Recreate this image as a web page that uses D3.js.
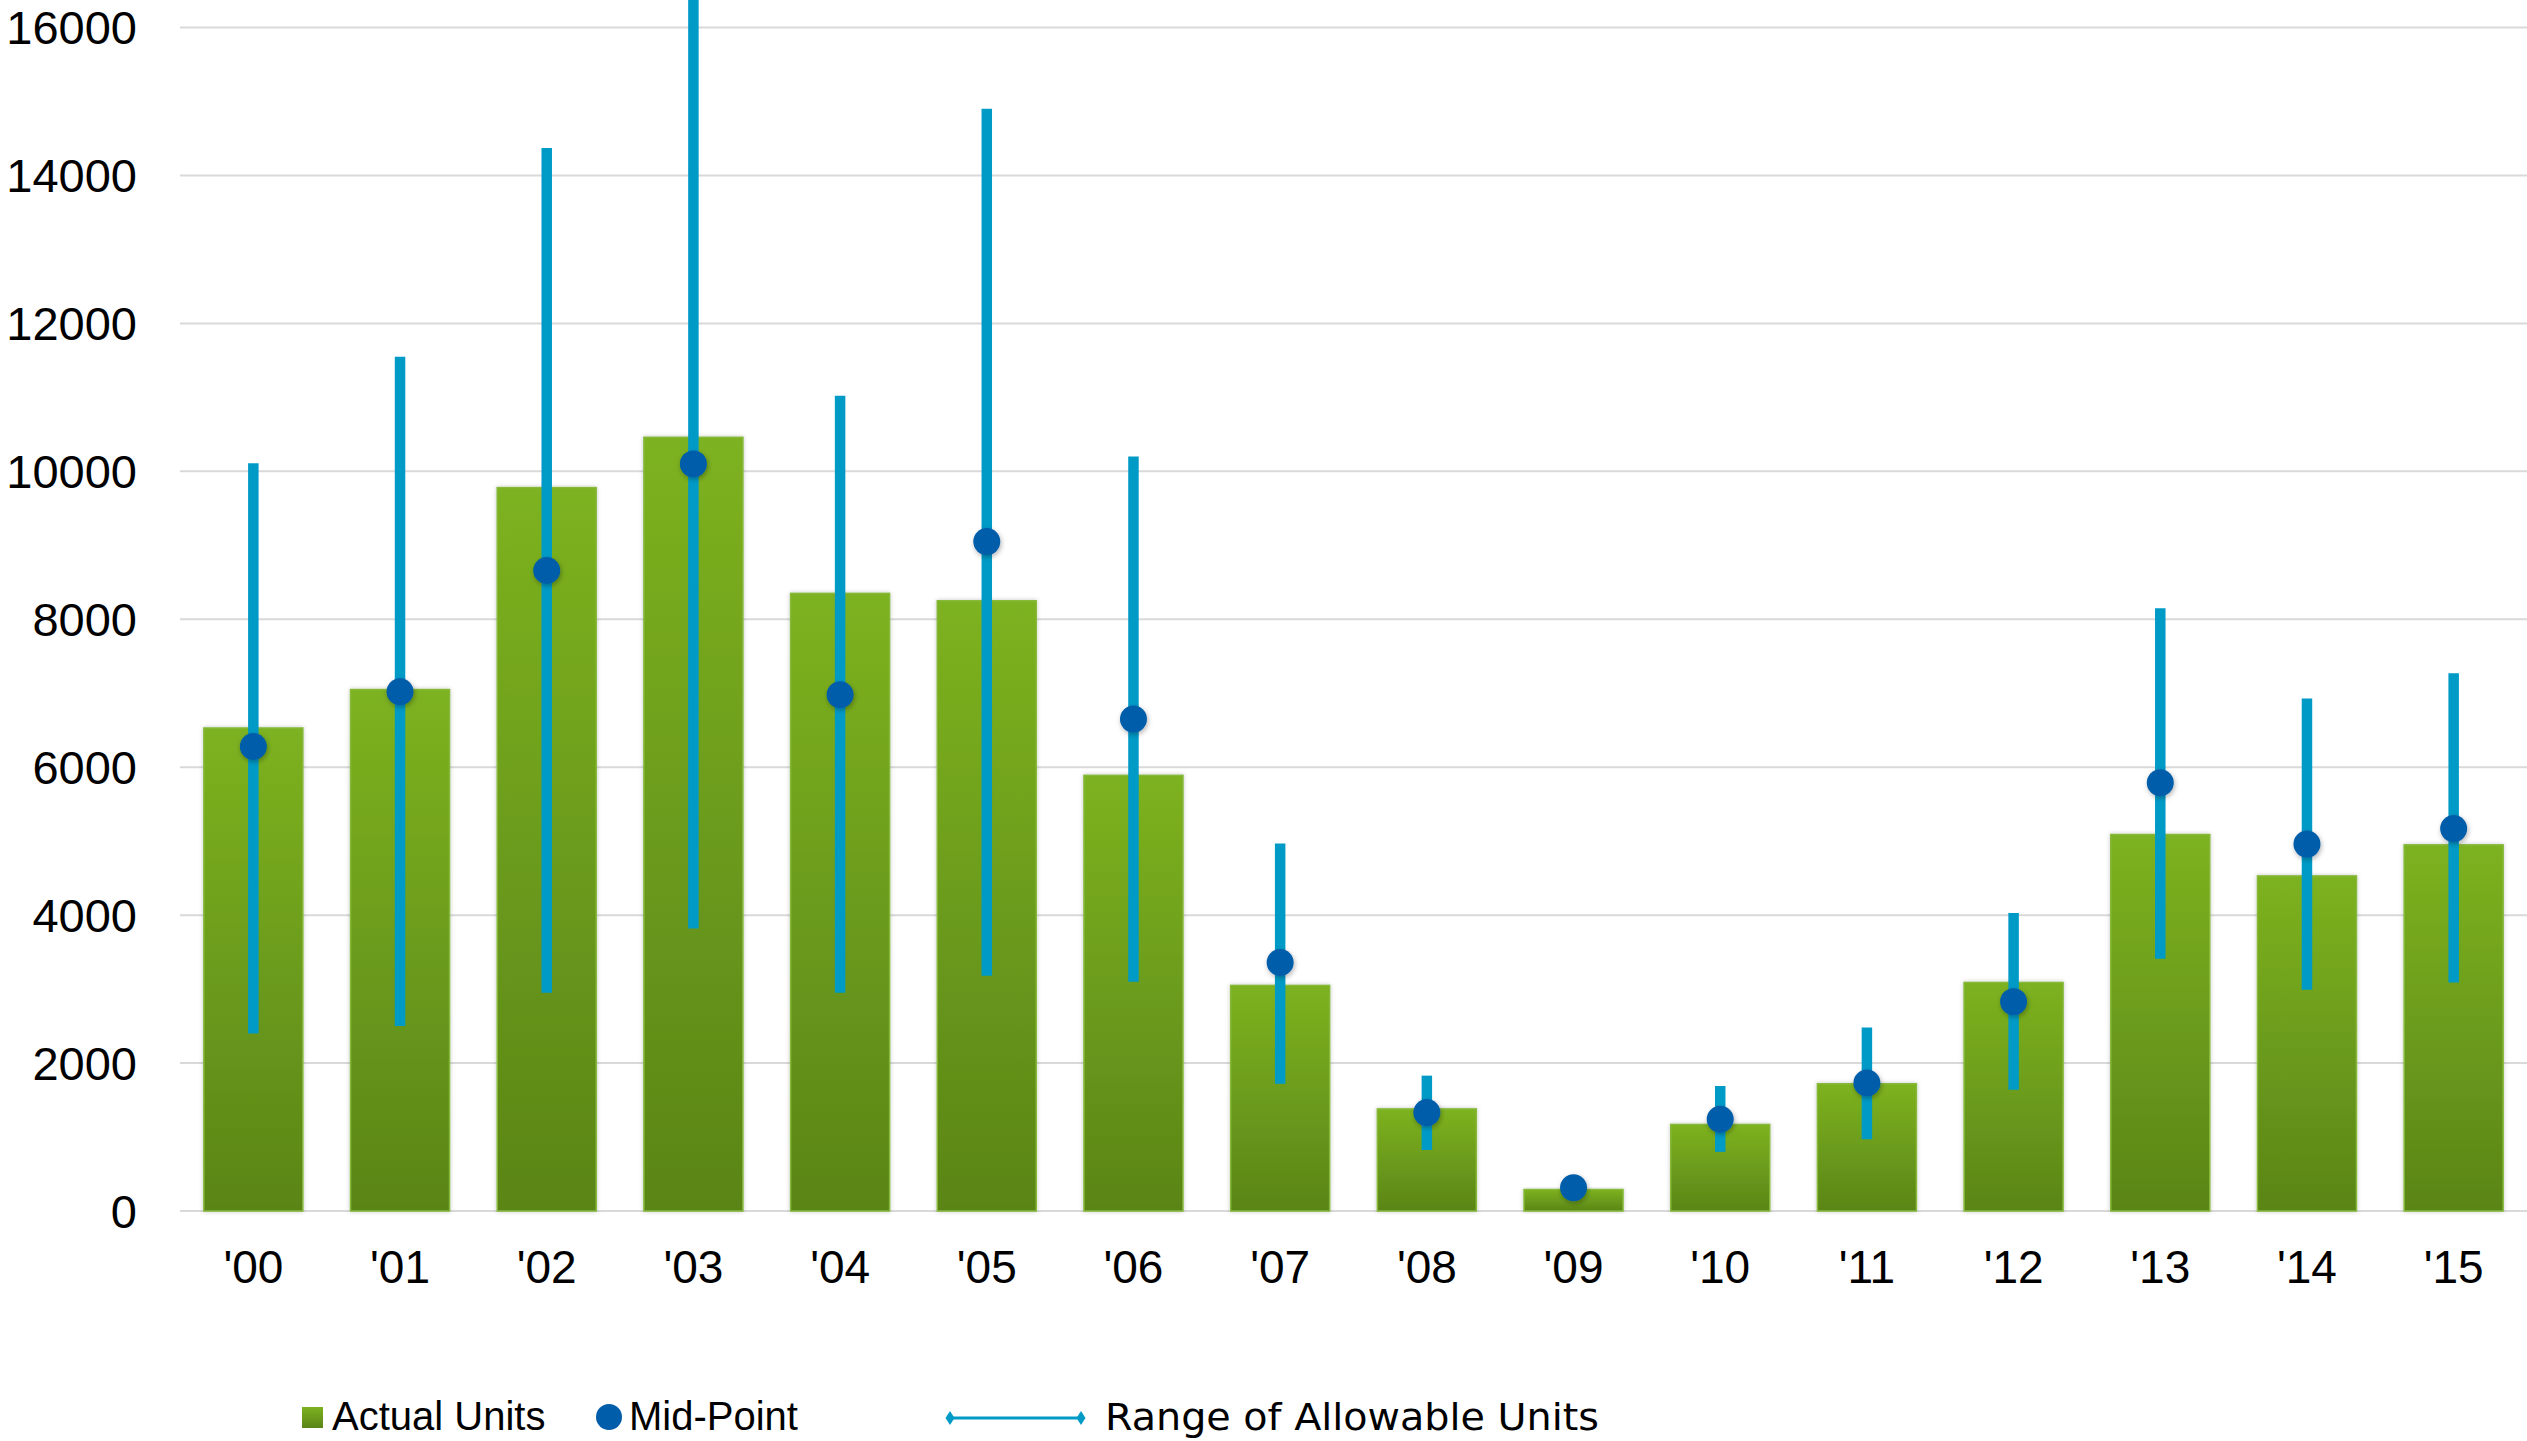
<!DOCTYPE html>
<html>
<head>
<meta charset="utf-8">
<script src="https://cdn.jsdelivr.net/npm/d3@7"></script>
<style>
  html, body { margin: 0; padding: 0; background: #ffffff; }
  svg { display: block; font-family: "Liberation Sans", Arial, sans-serif; }
</style>
</head>
<body>
<svg id="chart" width="2527" height="1441"></svg>
<script>
// Years shown on the category axis
const years = ["'00","'01","'02","'03","'04","'05","'06","'07","'08","'09","'10","'11","'12","'13","'14","'15"];
// Actual units built per year
const actualUnits = [6530, 7050, 9780, 10460, 8350, 8250, 5890, 3050, 1380, 290, 1170, 1720, 3090, 5090, 4530, 4950];
// Mid-point of the allowable range
const midPoint = [6280, 7020, 8660, 10100, 6980, 9050, 6650, 3360, 1330, 315, 1240, 1730, 2830, 5790, 4960, 5170];
// Range of allowable units (low / high)
const rangeLow = [2400, 2500, 2950, 3820, 2950, 3180, 3100, 1720, 825, 260, 800, 970, 1640, 3410, 2990, 3090];
const rangeHigh = [10110, 11550, 14370, 16600, 11020, 14900, 10200, 4970, 1830, 370, 1690, 2480, 4030, 8150, 6930, 7270];
// Value-axis ticks
const yTicks = [0, 2000, 4000, 6000, 8000, 10000, 12000, 14000, 16000];

const svg = d3.select("#chart");

const x = d3.scaleBand().domain(years).range([180, 2527]).paddingInner(0.325).paddingOuter(0.1625);
const y = d3.scaleLinear().domain([0, 16000]).range([1211, 27.5]);

const defs = svg.append("defs");
const grad = defs.append("linearGradient").attr("id", "barGrad")
  .attr("x1", 0).attr("y1", 0).attr("x2", 0).attr("y2", 1);
grad.append("stop").attr("offset", "0%").attr("stop-color", "#7db220");
grad.append("stop").attr("offset", "100%").attr("stop-color", "#5a8517");

const shadow = defs.append("filter").attr("id", "shadow")
  .attr("x", "-30%").attr("y", "-30%").attr("width", "160%").attr("height", "160%");
shadow.append("feDropShadow").attr("dx", 1).attr("dy", 2).attr("stdDeviation", 2.5)
  .attr("flood-color", "#000").attr("flood-opacity", 0.3);

const barShadow = defs.append("filter").attr("id", "barShadow")
  .attr("x", "-10%").attr("y", "-10%").attr("width", "120%").attr("height", "120%");
barShadow.append("feDropShadow").attr("dx", 0).attr("dy", 0).attr("stdDeviation", 2)
  .attr("flood-color", "#000").attr("flood-opacity", 0.22);

// Horizontal gridlines + y axis labels
const yAxis = d3.axisLeft(y).tickValues(yTicks).tickSize(0).tickPadding(0).tickFormat(d3.format("d"));
const yg = svg.append("g").attr("transform", "translate(137,0)").call(yAxis);
yg.select(".domain").remove();
yg.selectAll("text").attr("font-size", 47).attr("fill", "#000").attr("dy", "0.35em")
  .attr("font-family", "Liberation Sans, Arial, sans-serif");

svg.append("g").selectAll("line").data(yTicks).join("line")
  .attr("x1", 180).attr("x2", 2527)
  .attr("y1", d => y(d)).attr("y2", d => y(d))
  .attr("stroke", "#d9d9d9").attr("stroke-width", 2);

// Bars: actual units
svg.append("g").selectAll("rect").data(actualUnits).join("rect")
  .attr("x", (d, i) => x(years[i]))
  .attr("y", d => y(d))
  .attr("width", x.bandwidth())
  .attr("height", d => y(0) - y(d))
  .attr("fill", "url(#barGrad)")
  .attr("stroke", "#86b93a").attr("stroke-width", 1.5)
  .attr("filter", "url(#barShadow)");

// Allowable range bars
svg.append("g").selectAll("line").data(rangeLow).join("line")
  .attr("x1", (d, i) => x(years[i]) + x.bandwidth() / 2)
  .attr("x2", (d, i) => x(years[i]) + x.bandwidth() / 2)
  .attr("y1", d => y(d))
  .attr("y2", (d, i) => y(rangeHigh[i]))
  .attr("stroke", "#009ac7").attr("stroke-width", 10.5);

// Mid-point markers
svg.append("g").selectAll("circle").data(midPoint).join("circle")
  .attr("cx", (d, i) => x(years[i]) + x.bandwidth() / 2)
  .attr("cy", d => y(d))
  .attr("r", 13.5)
  .attr("fill", "#005da9")
  .attr("filter", "url(#shadow)");

// Category axis labels
const xAxis = d3.axisBottom(x).tickSize(0).tickPadding(0);
const xg = svg.append("g").attr("transform", "translate(0,1283)").call(xAxis);
xg.select(".domain").remove();
xg.selectAll("text").attr("font-size", 46).attr("fill", "#000").attr("dy", 0)
  .attr("font-family", "Liberation Sans, Arial, sans-serif");

// Legend
const legend = svg.append("g").attr("font-size", 40).attr("fill", "#000");
legend.append("rect").attr("x", 302).attr("y", 1407).attr("width", 21).attr("height", 21).attr("fill", "url(#barGrad)");
legend.append("text").attr("x", 332).attr("y", 1430).text("Actual Units");
legend.append("circle").attr("cx", 609).attr("cy", 1417).attr("r", 13).attr("fill", "#005da9");
legend.append("text").attr("x", 629).attr("y", 1430).text("Mid-Point");
legend.append("line").attr("x1", 950).attr("x2", 1081).attr("y1", 1418).attr("y2", 1418)
  .attr("stroke", "#009ac7").attr("stroke-width", 3);
[950, 1081].forEach(cx => {
  legend.append("path")
    .attr("d", "M0,-7 L4.5,0 L0,7 L-4.5,0 Z")
    .attr("transform", `translate(${cx},1418)`)
    .attr("fill", "#009ac7");
});
legend.append("text").attr("x", 1105).attr("y", 1430)
  .attr("font-family", "DejaVu Sans, sans-serif").attr("font-size", 38)
  .attr("textLength", 494).attr("lengthAdjust", "spacingAndGlyphs")
  .text("Range of Allowable Units");
</script>
</body>
</html>
